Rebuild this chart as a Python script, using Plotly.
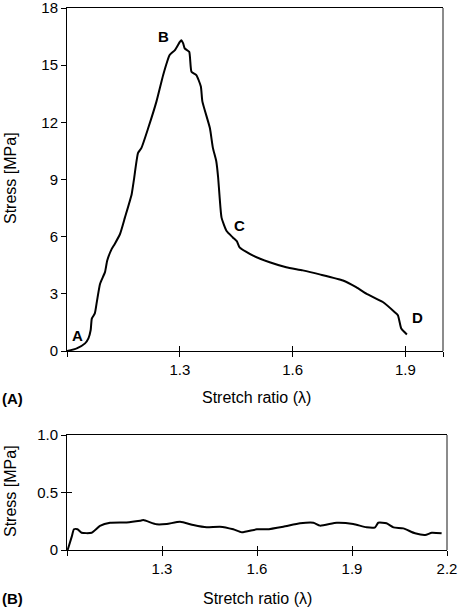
import plotly.graph_objects as go

# ---- Data ----
# (A) stretch ratio vs stress [MPa]
a_stretch = [1.000, 1.026, 1.048, 1.057, 1.063, 1.066, 1.074, 1.080, 1.088, 1.101,
             1.107, 1.119, 1.127, 1.141, 1.154, 1.172, 1.178, 1.189, 1.198, 1.216,
             1.238, 1.256, 1.273, 1.287, 1.300, 1.304, 1.309, 1.313, 1.325, 1.331,
             1.344, 1.356, 1.360, 1.380, 1.388, 1.397, 1.402, 1.406, 1.411, 1.424,
             1.441, 1.452, 1.459, 1.495, 1.539, 1.583, 1.627, 1.672, 1.734, 1.769,
             1.796, 1.840, 1.871, 1.880, 1.889, 1.904]
a_stress = [0.00, 0.14, 0.40, 0.66, 1.10, 1.70, 1.97, 2.66, 3.53, 4.14,
            4.75, 5.36, 5.62, 6.14, 7.00, 8.23, 8.99, 10.40, 10.66, 11.70,
            13.10, 14.50, 15.53, 15.79, 16.22, 16.31, 16.14, 15.88, 15.70, 14.66,
            14.48, 13.88, 13.10, 11.70, 10.66, 9.96, 9.09, 8.05, 7.00, 6.31,
            5.96, 5.75, 5.44, 5.00, 4.66, 4.40, 4.23, 4.02, 3.70, 3.35,
            3.01, 2.57, 2.05, 1.88, 1.18, 0.87]

# (B) stretch ratio vs stress [MPa]
b_stretch = [1.002, 1.015, 1.022, 1.033, 1.046, 1.078, 1.104, 1.136, 1.188, 1.231,
             1.241, 1.283, 1.315, 1.357, 1.399, 1.441, 1.483, 1.525, 1.552, 1.599,
             1.631, 1.683, 1.736, 1.778, 1.799, 1.852, 1.904, 1.946, 1.973, 1.983,
             2.009, 2.031, 2.062, 2.099, 2.131, 2.152, 2.183]
b_stress = [0.000, 0.116, 0.180, 0.180, 0.150, 0.150, 0.209, 0.237, 0.240, 0.255,
            0.260, 0.223, 0.226, 0.246, 0.217, 0.197, 0.203, 0.180, 0.154, 0.180,
            0.180, 0.203, 0.232, 0.237, 0.212, 0.237, 0.226, 0.197, 0.197, 0.237,
            0.232, 0.197, 0.188, 0.145, 0.130, 0.150, 0.145]

a_xticks = [1.0, 1.3, 1.6, 1.9, 2.0]
a_xtext = ["", "1.3", "1.6", "1.9", ""]
a_yticks = [0, 3, 6, 9, 12, 15, 18]
b_xticks = [1.0, 1.3, 1.6, 1.9, 2.2]
b_xtext = ["", "1.3", "1.6", "1.9", "2.2"]
b_yticks = [0, 0.5, 1.0]
b_ytext = ["0", "0.5", "1.0"]

point_labels = ["A", "B", "C", "D"]
point_px = [(77, 335), (163, 36), (239, 225), (417, 317)]

W, H = 458, 608
FONT = "Liberation Sans, Arial, sans-serif"
FS = 15
FT = 16

line_style = dict(color="black", width=2, shape="spline", smoothing=0.5)

fig = go.Figure()
fig.add_trace(go.Scatter(x=a_stretch, y=a_stress, mode="lines", line=line_style,
                         xaxis="x", yaxis="y", showlegend=False, hoverinfo="skip",
                         cliponaxis=False))
fig.add_trace(go.Scatter(x=b_stretch, y=b_stress, mode="lines", line=line_style,
                         xaxis="x2", yaxis="y2", showlegend=False, hoverinfo="skip",
                         cliponaxis=False))
# empty traces to instantiate overlay axes (for crossing ticks)
fig.add_trace(go.Scatter(x=[], y=[], xaxis="x3", yaxis="y", showlegend=False, hoverinfo="skip"))
fig.add_trace(go.Scatter(x=[], y=[], xaxis="x4", yaxis="y2", showlegend=False, hoverinfo="skip"))
fig.add_trace(go.Scatter(x=[], y=[], xaxis="x2", yaxis="y3", showlegend=False, hoverinfo="skip"))

xdomA = [67 / W, 443 / W]
xdomB = [67 / W, 447 / W]
ydomA = [1 - 351 / H, 1 - 8 / H]
ydomB = [1 - 550 / H, 1 - 435 / H]

tickfont = dict(family=FONT, size=FS, color="black")
common = dict(showgrid=False, zeroline=False, tickfont=tickfont, automargin=False,
              ticklabeloverflow="allow",
              tickcolor="black", tickwidth=1, linecolor="black", linewidth=1)
ovl = dict(showticklabels=False, showline=False, showgrid=False, zeroline=False,
           tickcolor="black", automargin=False)

fig.update_layout(
    width=W, height=H,
    margin=dict(l=0, r=0, t=0, b=0, autoexpand=False),
    plot_bgcolor="white", paper_bgcolor="white",
    font=dict(family=FONT, size=FS, color="black"),
    xaxis=dict(domain=xdomA, anchor="y", range=[1.0, 2.0], tickmode="array",
               tickvals=a_xticks, ticktext=a_xtext, ticks="outside", ticklen=5,
               showline=True, mirror=True, **common),
    yaxis=dict(domain=ydomA, anchor="x", range=[0, 18], tickmode="array",
               tickvals=a_yticks, ticks="outside", ticklen=5, showline=True, **common),
    xaxis3=dict(overlaying="x", anchor="y", range=[1.0, 2.0], tickmode="array",
                tickvals=a_xticks, ticks="inside", ticklen=5, **ovl),
    xaxis2=dict(domain=xdomB, anchor="y2", range=[1.0, 2.2], tickmode="array",
                tickvals=b_xticks, ticktext=b_xtext, ticks="outside", ticklen=5,
                showline=True, mirror=True, **common),
    yaxis2=dict(domain=ydomB, anchor="x2", range=[0, 1.0], tickmode="array",
                tickvals=b_yticks, ticktext=b_ytext, ticks="outside", ticklen=5,
                showline=True, **common),
    xaxis4=dict(overlaying="x2", anchor="y2", range=[1.0, 2.2], tickmode="array",
                tickvals=b_xticks, ticks="inside", ticklen=4, **ovl),
    yaxis3=dict(overlaying="y2", anchor="x2", range=[0, 1.0], tickmode="array",
                tickvals=b_yticks, ticks="inside", ticklen=5, **ovl),
)

# right borders (grey)
fig.add_shape(type="line", xref="paper", yref="paper", x0=xdomA[1], x1=xdomA[1],
              y0=ydomA[0], y1=ydomA[1], line=dict(color="#666666", width=1.5))
fig.add_shape(type="line", xref="paper", yref="paper", x0=xdomB[1], x1=xdomB[1],
              y0=ydomB[0], y1=ydomB[1], line=dict(color="#666666", width=1.5))

def ann(text, px, py, size=FS, bold=False, angle=0, xanchor="center"):
    t = f"<b>{text}</b>" if bold else text
    fig.add_annotation(text=t, xref="paper", yref="paper", x=px / W, y=1 - py / H,
                       showarrow=False, textangle=angle, xanchor=xanchor, yanchor="middle",
                       font=dict(family=FONT, size=size, color="black"))

ann("Stretch ratio (λ)", 256, 397, size=FT)
ann("Stretch ratio (λ)", 257, 598, size=FT)
ann("Stress [MPa]", 10, 178, size=FT, angle=-90)
ann("Stress [MPa]", 10, 491, size=FT, angle=-90)
ann("(A)", 0, 398, bold=True, xanchor="left")
ann("(B)", 0, 598, bold=True, xanchor="left")
for lab, (px, py) in zip(point_labels, point_px):
    ann(lab, px, py, bold=True)

fig.write_html(
    "out.html",
    config={"displayModeBar": False, "staticPlot": True},
    post_script="document.body.style.margin='0';document.body.style.overflow='hidden';",
)
